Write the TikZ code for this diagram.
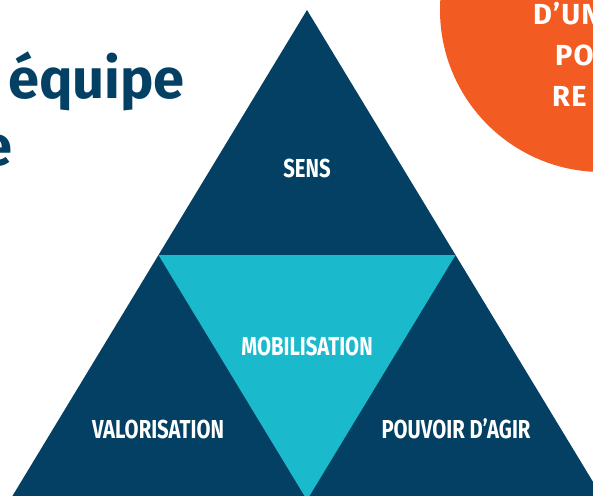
\documentclass[tikz,border=0pt]{standalone}
\usepackage{fontspec}
\usetikzlibrary{calc}
\setmainfont{Fira Sans}
\newfontfamily\condfont{Fira Sans}[FakeStretch=0.78]
\newfontfamily\anchafont{Fira Sans}[LetterSpace=4]
\definecolor{azul}{HTML}{034063}
\definecolor{cian}{HTML}{1ABACC}
\definecolor{naranja}{HTML}{F25B22}
\tikzset{
  etiqueta/.style={text=white, inner sep=0pt, anchor=base,
    font=\condfont\bfseries\fontsize{26}{26}\selectfont},
  titulo/.style={text=azul, inner sep=0pt, anchor=base west,
    font=\bfseries\fontsize{56}{56}\selectfont},
  burbuja/.style={text=white, inner sep=0pt, anchor=base west,
    font=\anchafont\bfseries\fontsize{29}{29}\selectfont}
}
\begin{document}
\begin{tikzpicture}[x=1pt,y=-1pt]
% Marco del dibujo
\useasboundingbox (0,0) rectangle (593,495);
\clip (0,0) rectangle (593,495);
\fill[white] (0,0) rectangle (593,495);

% Los tres vértices del triángulo grande
\coordinate (cima) at (307,10);
\coordinate (izq) at (10,500);
\coordinate (der) at (604,500);
% Los puntos medios dan el triángulo invertido
\coordinate (mizq) at ($(cima)!0.5!(izq)$);
\coordinate (mder) at ($(cima)!0.5!(der)$);
\coordinate (mbase) at ($(izq)!0.5!(der)$);

% El círculo naranja de la esquina
\fill[naranja] (602,10) circle (162);

% Triángulo grande
\fill[azul] (cima) -- (izq) -- (der) -- cycle;

% Triángulo del centro
\fill[cian] (mizq) -- (mder) -- (mbase) -- cycle;

% Textos del triángulo
\node[etiqueta] (sens) at (307,177) {SENS};
\node[etiqueta] (mobilisation) at (307,355) {MOBILISATION};
\node[etiqueta] (valorisation) at (158,438) {VALORISATION};
\node[etiqueta] (pouvoir) at (456,438) {POUVOIR D’AGIR};

% Título cortado a la izquierda
\node[titulo] (prev) at (-34,98) {e};
\node[titulo] (equipe) at (8,98) {équipe};
\node[titulo] (linea) at (-19,165) {e};

% Texto cortado dentro del círculo
\node[burbuja] (dun) at (533,25) {D’UN};
\node[burbuja] (po) at (555,65) {PO};
\node[burbuja] (re) at (552,106) {RE};
\end{tikzpicture}
\end{document}
